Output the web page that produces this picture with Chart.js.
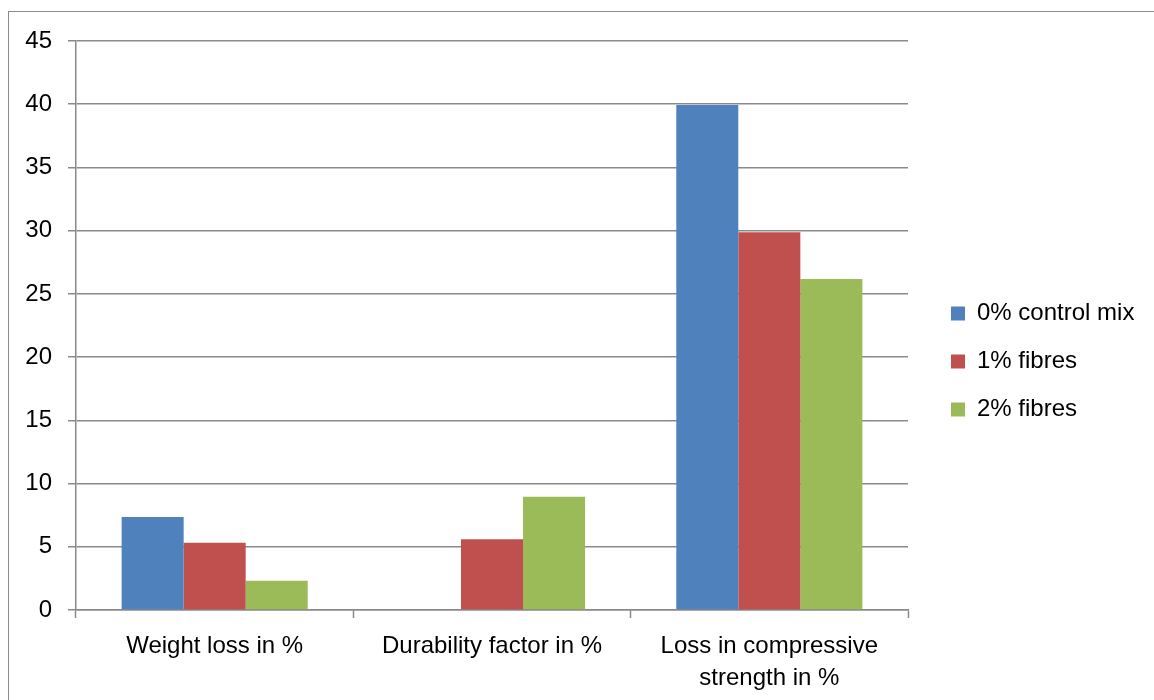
<!DOCTYPE html>
<html>
<head>
<meta charset="utf-8">
<script src="https://cdn.jsdelivr.net/npm/chart.js@4/dist/chart.umd.min.js"></script>
<style>
  html, body { margin: 0; padding: 0; background: #fff; overflow: hidden; }
  #frame { position: absolute; left: 8px; top: 11px; width: 2000px; height: 2000px; border: 1px solid #8c8c8c; }
  #wrap { position: absolute; left: 0; top: 0; width: 1154px; height: 700px; }
</style>
</head>
<body>
<div id="frame"></div>
<div id="wrap"><canvas id="chart" width="1154" height="700"></canvas></div>
<script>
const categories = ['Weight loss in %', 'Durability factor in %', ['Loss in compressive', 'strength in %']];
const controlMix = [7.36, 0.05, 39.94];
const fibres1 = [5.32, 5.59, 29.87];
const fibres2 = [2.32, 8.96, 26.18];
const yTicks = [0, 5, 10, 15, 20, 25, 30, 35, 40, 45];

const gridColor = '#8a8a8a';
const font = { family: '"Liberation Sans", Arial, sans-serif', size: 24 };

// keep the legend box at a fixed width and nudge it like the original
const legendFix = {
  id: 'legendFix',
  afterInit(chart) {
    const lg = chart.legend;
    const fit = lg.fit.bind(lg);
    lg.fit = function() {
      fit();
      this.width = 246;
    };
  },
  afterLayout(chart) {
    chart.legend.left += 19;
    chart.legend.top -= 9;
    chart.legend.bottom -= 9;
  }
};

const ctx = document.getElementById('chart').getContext('2d');
const chart = new Chart(ctx, {
  type: 'bar',
  data: {
    labels: categories,
    datasets: [
      { label: '0% control mix', data: controlMix, backgroundColor: '#4F81BD' },
      { label: '1% fibres', data: fibres1, backgroundColor: '#C0504D' },
      { label: '2% fibres', data: fibres2, backgroundColor: '#9BBB59' }
    ]
  },
  options: {
    responsive: false,
    animation: false,
    layout: { padding: { left: 0, top: 41, right: 0, bottom: 0 } },
    datasets: {
      bar: { categoryPercentage: 0.671, barPercentage: 1.0 }
    },
    plugins: {
      legend: {
        position: 'right',
        labels: {
          boxWidth: 14,
          boxHeight: 14,
          padding: 24,
          color: '#000',
          font: font
        }
      },
      tooltip: { enabled: false }
    },
    scales: {
      x: {
        grid: {
          offset: true,
          drawOnChartArea: false,
          drawTicks: true,
          tickLength: 8,
          tickColor: gridColor,
          tickWidth: 1.5
        },
        border: { display: true, color: gridColor, width: 1.5 },
        ticks: {
          color: '#000',
          font: { family: font.family, size: 24, lineHeight: 1.33 },
          padding: 12,
          maxRotation: 0,
          autoSkip: false
        },
        afterFit(scale) { scale.height = 90; }
      },
      y: {
        min: 0,
        max: 45,
        afterBuildTicks(scale) {
          scale.ticks = yTicks.map(v => ({ value: v }));
        },
        grid: {
          color: gridColor,
          lineWidth: 1.5,
          tickLength: 8,
          tickColor: gridColor
        },
        border: { display: true, color: gridColor, width: 1.5 },
        ticks: {
          color: '#000',
          font: font,
          padding: 16
        },
        afterFit(scale) { scale.width = 76; }
      }
    }
  },
  plugins: [legendFix]
});
</script>
</body>
</html>
